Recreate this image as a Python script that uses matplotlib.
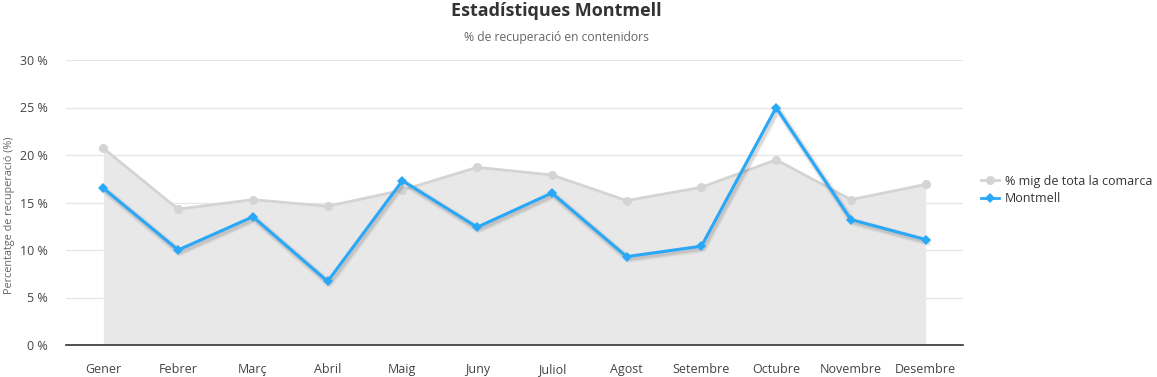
import numpy as np
import matplotlib
matplotlib.use("Agg")
import matplotlib.pyplot as plt
import matplotlib.patheffects as pe
from matplotlib.lines import Line2D

months = ["Gener", "Febrer", "Març", "Abril", "Maig", "Juny", "Juliol",
          "Agost", "Setembre", "Octubre", "Novembre", "Desembre"]
comarca_avg = [20.7, 14.3, 15.3, 14.6, 16.3, 18.7, 17.9, 15.2, 16.6, 19.5, 15.3, 16.9]
montmell = [16.5, 10.0, 13.5, 6.7, 17.3, 12.4, 16.0, 9.3, 10.4, 25.0, 13.2, 11.1]
y_ticks = [0, 5, 10, 15, 20, 25, 30]

plt.rcParams["font.family"] = ["Open Sans", "DejaVu Sans"]

fig = plt.figure(figsize=(11.57, 3.77), dpi=100)
ax = fig.add_axes([66 / 1157, 1 - 345 / 377, (963 - 66) / 1157, (345 - 60) / 377])

x = np.arange(len(months))
gray_line = "#d4d4d4"
blue = "#2aa8f8"

ax.fill_between(x, comarca_avg, 0, color="#e8e8e8", linewidth=0, zorder=1)
ax.plot(x, comarca_avg, color=gray_line, lw=2, marker="o", ms=6.5,
        markeredgewidth=0, zorder=2)

# soft shadow under the blue line (line only, no markers)
shadow = [pe.Stroke(linewidth=w, foreground="#000000", alpha=a, offset=(1.2, -1.6))
          for w, a in [(6, 0.03), (4.5, 0.05), (3, 0.08)]]
ax.plot(x, montmell, color="none", lw=2.2, zorder=2.5, path_effects=shadow)
ax.plot(x, montmell, color=blue, lw=2.2, marker="D", ms=5,
        markeredgewidth=0, zorder=3)

ax.set_xlim(-0.5, len(months) - 0.5)
ax.set_ylim(0, 30)
ax.set_yticks(y_ticks)
ax.set_yticklabels([f"{v} %" for v in y_ticks])
ax.set_xticks(x)
ax.set_xticklabels(months)
ax.tick_params(axis="both", length=0, labelsize=9, colors="#444444")
ax.tick_params(axis="x", pad=13)
ax.tick_params(axis="y", pad=13)

ax.grid(axis="y", color="#e6e6e6", lw=0.9)
ax.set_axisbelow(True)
for s in ["top", "right", "left"]:
    ax.spines[s].set_visible(False)
ax.spines["bottom"].set_color("#333333")
ax.spines["bottom"].set_linewidth(1.2)
ax.spines["bottom"].set_zorder(5)

fig.text(10 / 1157, 1 - 215 / 377, "Percentatge de recuperació (%)", rotation=90,
         ha="center", va="center", fontsize=7.8, color="#666666")

fig.text(556 / 1157, 1 - 11 / 377, "Estadístiques Montmell", ha="center", va="center",
         fontsize=13, fontweight="bold", color="#333333")
fig.text(556 / 1157, 1 - 38 / 377, "% de recuperació en contenidors", ha="center", va="center",
         fontsize=8.7, color="#666666")

handles = [
    Line2D([0], [0], color=gray_line, lw=2, marker="o", ms=6.5, markeredgewidth=0),
    Line2D([0], [0], color=blue, lw=2, marker="D", ms=5, markeredgewidth=0),
]
fig.legend(handles, ["% mig de tota la comarca", "Montmell"],
           loc="center left", bbox_to_anchor=(970 / 1157, 1 - 190 / 377),
           frameon=False, fontsize=9, handlelength=1.4, handletextpad=0.5,
           labelspacing=0.4, labelcolor="#333333")

fig.savefig("out.png", dpi=100)
